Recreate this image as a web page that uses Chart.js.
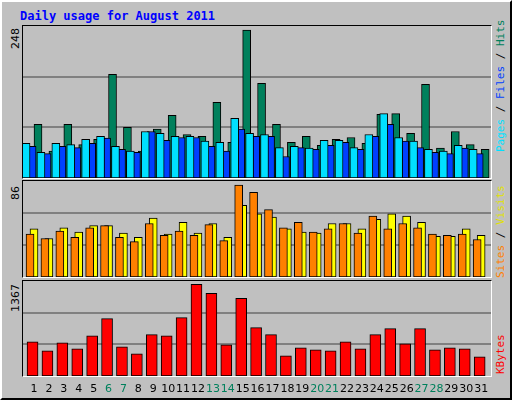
<!DOCTYPE html>
<html>
<head>
<meta charset="utf-8">
<script src="https://cdn.jsdelivr.net/npm/chart.js@4/dist/chart.umd.min.js"></script>
<style>
  body { margin: 0; background: #fff; }
  #frame { position: absolute; left: 0; top: 0; width: 508px; height: 396px; background: #c0c0c0;
           border: 2px solid; border-color: #fff #000 #000 #fff; }
  .panel { position: absolute; left: 20px; width: 468px; border: 1px solid; border-color: #000 #fff #fff #000; }
  .panel canvas { position: absolute; left: 0; top: 0; }
  #title { position: absolute; left: 18px; top: 7px; font: bold 12px "DejaVu Sans Mono", monospace; color: #0000ff; }
  .side { position: absolute; font: 11px "DejaVu Sans Mono", monospace; white-space: nowrap;
          transform-origin: 0 0; transform: rotate(-90deg); }
  .maxlbl { position: absolute; font: 11px "DejaVu Sans", sans-serif; white-space: nowrap;
            transform-origin: 0 0; transform: rotate(-90deg); color: #000; }
</style>
</head>
<body>
<div id="frame">
  <div id="title">Daily usage for August 2011</div>
  <div class="panel" style="top:23px;height:152px"><canvas id="c1"></canvas></div>
  <div class="panel" style="top:178px;height:96px"><canvas id="c2"></canvas></div>
  <div class="panel" style="top:278px;height:95px"><canvas id="c3"></canvas></div>
  <div class="maxlbl" style="left:7px;top:47px">248</div>
  <div class="maxlbl" style="left:7px;top:198px">86</div>
  <div class="maxlbl" style="left:7px;top:310px">1367</div>
  <div class="side" style="left:492px;top:150px"><span style="color:#00e0ff">Pages</span> / <span style="color:#0040ff">Files</span> / <span style="color:#00805c">Hits</span></div>
  <div class="side" style="left:492px;top:276px"><span style="color:#ff8000">Sites</span> / <span style="color:#e0e000">Visits</span></div>
  <div class="side" style="left:492px;top:372px"><span style="color:#ff0000">KBytes</span></div>
</div>
<script>
// --- DATA ---
const days = [1,2,3,4,5,6,7,8,9,10,11,12,13,14,15,16,17,18,19,20,21,22,23,24,25,26,27,28,29,30,31];
const weekends = [6,7,13,14,20,21,27,28];
const hits   = [90,45,90,56,65,174,85,45,82,105,73,70,127,60,248,159,90,60,70,55,65,68,58,107,108,75,157,50,78,56,48];
const files  = [53,41,53,51,58,67,48,43,78,63,68,68,53,45,82,70,70,36,51,48,55,60,48,70,90,62,51,43,41,50,41];
const pages  = [58,43,58,56,65,70,53,45,78,75,70,70,62,60,100,75,73,51,53,50,63,63,51,73,108,68,62,48,45,55,48];
const visits = [45,36,46,42,48,48,41,37,55,40,51,41,50,37,67,59,56,45,42,41,50,50,45,54,59,57,51,38,38,45,39];
const sites  = [40,36,43,37,46,48,37,33,50,39,43,39,49,34,86,79,63,46,51,42,45,50,41,57,45,50,46,40,39,40,35];
const kbytes = [511,376,496,406,601,856,436,330,616,601,871,1367,1232,466,1157,721,616,300,421,391,376,511,406,616,706,481,706,391,421,406,285];

// --- HELPERS ---
function series(values, shift) {
    return values.map((v, i) => ({ x: days[i] + shift, y: v }));
}

function barSet(label, values, shift, color, width) {
    return {
        label: label,
        data: series(values, shift),
        backgroundColor: color,
        borderColor: '#000',
        borderWidth: 1,
        borderSkipped: false,
        barThickness: width
    };
}

const dayLabels = {
    id: 'dayLabels',
    afterDraw(chart) {
        const ctx = chart.ctx;
        const sx = chart.scales.x;
        ctx.save();
        ctx.font = '11px "DejaVu Sans", sans-serif';
        ctx.textAlign = 'center';
        ctx.textBaseline = 'middle';
        days.forEach(d => {
            ctx.fillStyle = weekends.includes(d) ? '#00805c' : '#000';
            ctx.fillText(String(d), sx.getPixelForValue(d), chart.chartArea.bottom + 13);
        });
        ctx.restore();
    }
};

function makeChart(id, datasets, maxY, w, h, padBottom, plugins) {
    const canvas = document.getElementById(id);
    canvas.style.width = w + 'px';
    canvas.style.height = h + 'px';
    return new Chart(canvas, {
        type: 'bar',
        data: { datasets: datasets },
        plugins: plugins || [],
        options: {
            responsive: false,
            animation: false,
            devicePixelRatio: 1,
            layout: { padding: { left: 0, right: 0, top: 0, bottom: padBottom } },
            plugins: { legend: { display: false }, tooltip: { enabled: false } },
            scales: {
                x: { type: 'linear', min: 0.26, max: 31.66, offset: false, bounds: 'ticks', display: false },
                y: {
                    min: 0, max: maxY,
                    afterBuildTicks: s => { s.ticks = [{ value: maxY / 3 }, { value: maxY * 2 / 3 }]; },
                    afterFit: s => { s.width = 0; },
                    ticks: { display: false },
                    border: { display: false },
                    grid: { color: '#808080', lineWidth: 2, drawTicks: false }
                }
            }
        }
    });
}

// --- CHARTS ---
makeChart('c1', [
    barSet('Pages', pages, 0, '#00e0ff', 8),
    barSet('Files', files, -0.13, '#0040ff', 8),
    barSet('Hits', hits, -0.27, '#00805c', 8)
], 255, 468, 152, 0);

makeChart('c2', [
    barSet('Sites', sites, 0, '#ff8000', 8),
    barSet('Visits', visits, -0.27, '#ffff00', 8)
], 89.7, 468, 96, 0);

makeChart('c3', [
    barSet('KBytes', kbytes, -0.1, '#ff0000', 11)
], 1417, 468, 120, 25, [dayLabels]);
document.getElementById('c3').parentElement.style.overflow = 'visible';
</script>
</body>
</html>
